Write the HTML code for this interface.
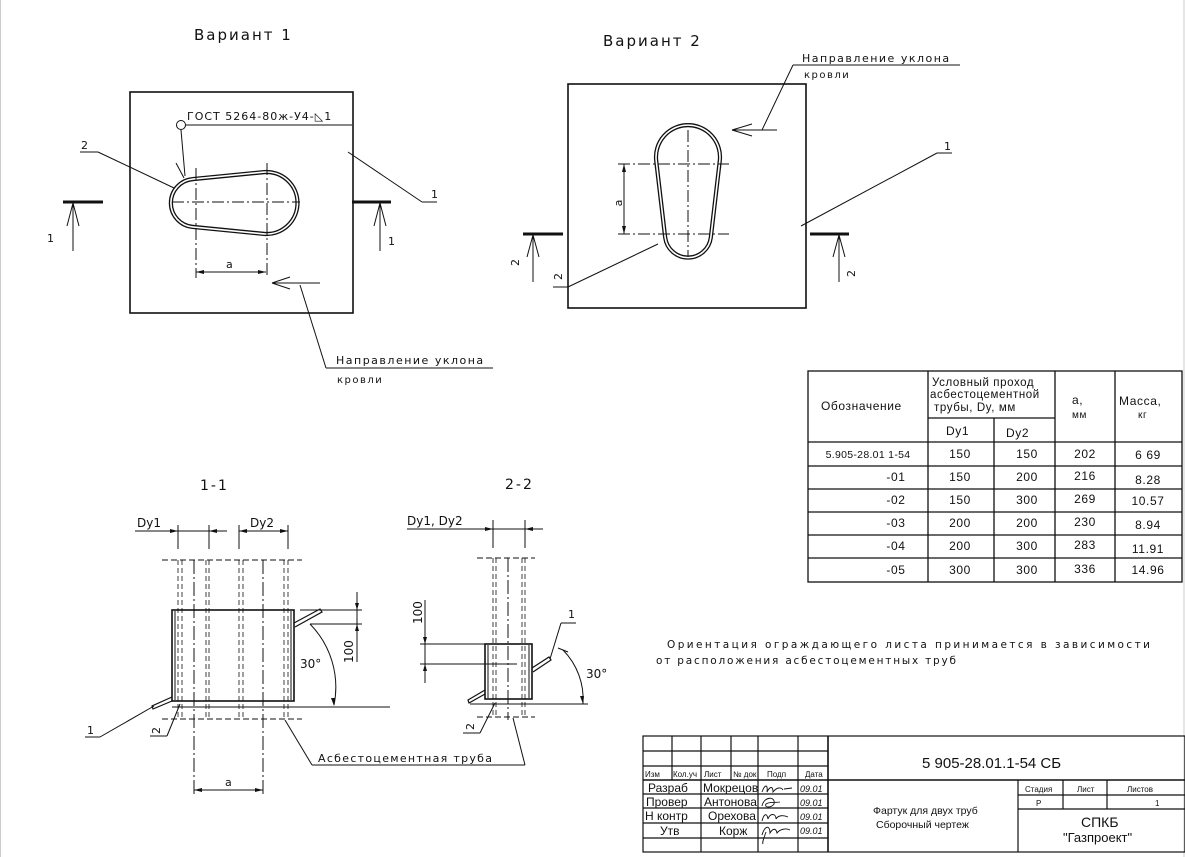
<!DOCTYPE html>
<html><head><meta charset="utf-8"><style>
html,body{margin:0;padding:0;background:#fff;}
svg{display:block;}
text{font-family:"Liberation Sans","DejaVu Sans",sans-serif;fill:#111;}
.g{font-family:"DejaVu Sans","Liberation Sans",sans-serif;}
</style></head><body>
<svg width="1185" height="857" viewBox="0 0 1185 857" xmlns="http://www.w3.org/2000/svg" stroke="#111" fill="none" stroke-width="1">
<line x1="0" y1="0" x2="0" y2="857" stroke="#999"/>
<line x1="1184" y1="0" x2="1184" y2="857" stroke="#ccc"/>

<!-- ===== Variant 1 ===== -->
<text x="194" y="40" font-size="15" stroke="none" letter-spacing="2" class="g">Вариант 1</text>
<rect x="130" y="92" width="223" height="221" stroke-width="1.6"/>
<path d="M192.7,179.1 L264,172.1 A31,31 0 1 1 264,233.9 L192.7,226.9 A24,24 0 0 1 192.7,179.1 Z" stroke-width="4.2"/>
<path d="M192.7,179.1 L264,172.1 A31,31 0 1 1 264,233.9 L192.7,226.9 A24,24 0 0 1 192.7,179.1 Z" stroke="#fff" stroke-width="1.6"/>
<line x1="172" y1="202" x2="300" y2="202" stroke-dasharray="12,3,2,3"/>
<line x1="196" y1="168" x2="196" y2="278" stroke-dasharray="12,3,2,3"/>
<line x1="267" y1="163" x2="267" y2="278" stroke-dasharray="12,3,2,3"/>
<line x1="196" y1="272" x2="266" y2="272"/>
<path d="M196,272 l8,-2 v4 z M266,272 l-8,-2 v4 z" fill="#111" stroke="none"/>
<text x="226" y="268" font-size="11" stroke="none" class="g">а</text>
<line x1="272" y1="283" x2="320" y2="283"/>
<path d="M272,283 L290,277 M272,283 L290,289"/>
<line x1="300" y1="285" x2="326" y2="368"/>
<line x1="326" y1="368" x2="493" y2="368"/>
<text x="336" y="364" font-size="11" stroke="none" letter-spacing="1.5" class="g">Направление уклона</text>
<text x="337" y="383" font-size="10" stroke="none" letter-spacing="1.5" class="g">кровли</text>
<circle cx="181" cy="125" r="4.5"/>
<line x1="185" y1="125" x2="352" y2="125"/>
<line x1="181" y1="130" x2="185" y2="176"/>
<line x1="176" y1="163" x2="184" y2="178"/>
<text x="187" y="120" font-size="11" stroke="none" letter-spacing="1" class="g">ГОСТ 5264-80ж-У4-◺1</text>
<line x1="80" y1="152" x2="98" y2="152"/>
<line x1="98" y1="152" x2="174" y2="188"/>
<text x="81" y="149" font-size="11" stroke="none" class="g">2</text>
<line x1="348" y1="152" x2="422" y2="202"/>
<line x1="422" y1="202" x2="437" y2="202"/>
<text x="431" y="198" font-size="11" stroke="none" class="g">1</text>
<line x1="63" y1="202" x2="103" y2="202" stroke-width="3"/>
<line x1="73" y1="203" x2="73" y2="251"/>
<path d="M73,203 L67,226 M73,203 L79,226"/>
<text x="47" y="242" font-size="11" stroke="none" class="g">1</text>
<line x1="352" y1="202" x2="391" y2="202" stroke-width="3"/>
<line x1="380" y1="203" x2="380" y2="251"/>
<path d="M380,203 L374,226 M380,203 L386,226"/>
<text x="388" y="245" font-size="11" stroke="none" class="g">1</text>

<!-- ===== Variant 2 ===== -->
<text x="603" y="46" font-size="15" stroke="none" letter-spacing="2" class="g">Вариант 2</text>
<rect x="568" y="84" width="238" height="224" stroke-width="1.6"/>
<path d="M656.2,160.7 A32,32 0 1 1 719.8,160.7 L710.8,237.6 A23,23 0 0 1 665.2,237.6 Z" stroke-width="4.2"/>
<path d="M656.2,160.7 A32,32 0 1 1 719.8,160.7 L710.8,237.6 A23,23 0 0 1 665.2,237.6 Z" stroke="#fff" stroke-width="1.6"/>
<line x1="688" y1="130" x2="688" y2="257" stroke-dasharray="12,3,2,3"/>
<line x1="618" y1="164" x2="729" y2="164" stroke-dasharray="12,3,2,3"/>
<line x1="618" y1="234" x2="729" y2="234" stroke-dasharray="12,3,2,3"/>
<line x1="624" y1="164" x2="624" y2="234"/>
<path d="M624,164 l-2,8 h4 z M624,234 l-2,-8 h4 z" fill="#111" stroke="none"/>
<text x="622" y="203" font-size="11" stroke="none" class="g" transform="rotate(-90 622 203)" text-anchor="middle">а</text>
<line x1="732" y1="130" x2="777" y2="130"/>
<path d="M732,130 L752,124 M732,130 L752,136"/>
<line x1="762" y1="130" x2="793" y2="65"/>
<line x1="793" y1="65" x2="960" y2="65"/>
<text x="802" y="62" font-size="11" stroke="none" letter-spacing="1.5" class="g">Направление уклона</text>
<text x="804" y="78" font-size="10" stroke="none" letter-spacing="1.5" class="g">кровли</text>
<line x1="801" y1="226" x2="937" y2="153"/>
<line x1="937" y1="153" x2="952" y2="153"/>
<text x="944" y="150" font-size="11" stroke="none" class="g">1</text>
<line x1="658" y1="244" x2="568" y2="287"/>
<line x1="568" y1="287" x2="553" y2="287"/>
<text x="558" y="284" font-size="11" stroke="none" class="g" transform="rotate(-90 558 280)">2</text>
<line x1="523" y1="234" x2="563" y2="234" stroke-width="3"/>
<line x1="533" y1="235" x2="533" y2="282"/>
<path d="M533,235 L527,257 M533,235 L539,257"/>
<text x="515" y="270" font-size="11" stroke="none" class="g" transform="rotate(-90 515 266)">2</text>
<line x1="810" y1="234" x2="849" y2="234" stroke-width="3"/>
<line x1="839" y1="235" x2="839" y2="282"/>
<path d="M839,235 L833,257 M839,235 L845,257"/>
<text x="846" y="276" font-size="11" stroke="none" class="g" transform="rotate(-90 851 272)">2</text>

<!-- ===== Table ===== -->
<g stroke-width="1.3">
<rect x="808" y="371" width="374" height="211"/>
<line x1="928" y1="371" x2="928" y2="582"/>
<line x1="1055" y1="371" x2="1055" y2="582"/>
<line x1="1115" y1="371" x2="1115" y2="582"/>
<line x1="994" y1="418" x2="994" y2="582"/>
<line x1="928" y1="418" x2="1055" y2="418"/>
<line x1="808" y1="442" x2="1182" y2="442"/>
<line x1="808" y1="466" x2="1182" y2="466"/>
<line x1="808" y1="489" x2="1182" y2="489"/>
<line x1="808" y1="512" x2="1182" y2="512"/>
<line x1="808" y1="535" x2="1182" y2="535"/>
<line x1="808" y1="558" x2="1182" y2="558"/>
</g>
<g stroke="none" font-size="12" class="g" letter-spacing="0.6">
<text x="821" y="410">Обозначение</text>
<text x="932" y="386" font-size="11.5">Условный проход</text>
<text x="930" y="398" font-size="11.5">асбестоцементной</text>
<text x="934" y="411" font-size="11.5">трубы, Dy, мм</text>
<text x="1072" y="404">а,</text>
<text x="1072" y="418" font-size="10">мм</text>
<text x="1119" y="405">Масса,</text>
<text x="1138" y="418" font-size="10">кг</text>
<text x="946" y="435">Dу1</text>
<text x="1006" y="437">Dу2</text>
<g text-anchor="middle">
<text x="868" y="458" font-size="10.5" letter-spacing="0.3">5.905-28.01 1-54</text>
<text x="960" y="458">150</text><text x="1027" y="458">150</text><text x="1085" y="458">202</text><text x="1148" y="459">6 69</text>
<text x="896" y="481">-01</text>
<text x="960" y="481">150</text><text x="1027" y="481">200</text><text x="1085" y="480">216</text><text x="1148" y="484">8.28</text>
<text x="896" y="504">-02</text>
<text x="960" y="504">150</text><text x="1027" y="504">300</text><text x="1085" y="503">269</text><text x="1148" y="505">10.57</text>
<text x="896" y="527">-03</text>
<text x="960" y="527">200</text><text x="1027" y="527">200</text><text x="1085" y="526">230</text><text x="1148" y="529">8.94</text>
<text x="896" y="550">-04</text>
<text x="960" y="550">200</text><text x="1027" y="550">300</text><text x="1085" y="549">283</text><text x="1148" y="553">11.91</text>
<text x="896" y="574">-05</text>
<text x="960" y="574">300</text><text x="1027" y="574">300</text><text x="1085" y="573">336</text><text x="1148" y="574">14.96</text>
</g>
</g>

<text x="667" y="648" font-size="10.5" stroke="none" class="g" textLength="483" lengthAdjust="spacing">Ориентация ограждающего листа принимается в зависимости</text>
<text x="656" y="664" font-size="10.5" stroke="none" class="g" textLength="300" lengthAdjust="spacing">от расположения асбестоцементных труб</text>

<!-- ===== Section 1-1 ===== -->
<text x="200" y="490" font-size="14" stroke="none" class="g" letter-spacing="2">1-1</text>
<line x1="162" y1="560" x2="302" y2="560" stroke-dasharray="6,3"/>
<line x1="162" y1="719" x2="302" y2="719" stroke-dasharray="6,3"/>
<g stroke-dasharray="5,3" stroke-width="0.8">
<line x1="178" y1="560" x2="178" y2="719"/><line x1="182" y1="560" x2="182" y2="719"/>
<line x1="206" y1="560" x2="206" y2="719"/><line x1="209" y1="560" x2="209" y2="719"/>
<line x1="239" y1="560" x2="239" y2="719"/><line x1="243" y1="560" x2="243" y2="719"/>
<line x1="284" y1="560" x2="284" y2="719"/><line x1="288" y1="560" x2="288" y2="719"/>
</g>
<line x1="194" y1="560" x2="194" y2="795" stroke-dasharray="14,3,2,3"/>
<line x1="263" y1="560" x2="263" y2="795" stroke-dasharray="14,3,2,3"/>
<rect x="172" y="610" width="122" height="91" stroke-width="1.6"/>
<line x1="175" y1="611" x2="175" y2="700"/>
<line x1="291" y1="611" x2="291" y2="700"/>
<line x1="172" y1="707" x2="390" y2="707"/>
<path d="M294,623 L320,609 L322,612 L295,627" stroke-width="1.2"/>
<path d="M172,697 L152,706 L153,709 L172,701" stroke-width="1.2"/>
<line x1="178" y1="525" x2="178" y2="549"/>
<line x1="209" y1="525" x2="209" y2="549"/>
<line x1="239" y1="525" x2="239" y2="549"/>
<line x1="288" y1="525" x2="288" y2="549"/>
<line x1="135" y1="531" x2="227" y2="531"/>
<line x1="239" y1="531" x2="288" y2="531"/>
<path d="M178,531 l-8,-2 v4z M209,531 l8,-2 v4z M239,531 l8,-2 v4z M288,531 l-8,-2 v4z" fill="#111" stroke="none"/>
<text x="137" y="527" font-size="12" stroke="none" class="g">Dy1</text>
<text x="250" y="527" font-size="12" stroke="none" class="g">Dy2</text>
<line x1="300" y1="610" x2="362" y2="610"/>
<line x1="310" y1="624" x2="362" y2="624"/>
<line x1="357" y1="592" x2="357" y2="662"/>
<path d="M357,610 l-2,-7 h4z M357,624 l-2,7 h4z" fill="#111" stroke="none"/>
<text x="353" y="663" font-size="12" stroke="none" class="g" transform="rotate(-90 353 663)">100</text>
<path d="M310,624 A90,90 0 0 1 334,705"/>
<path d="M334,706 l-3,-8 l4,0z" fill="#111" stroke="none"/>
<text x="300" y="668" font-size="12" stroke="none" class="g">30°</text>
<line x1="194" y1="790" x2="263" y2="790"/>
<path d="M194,790 l8,-2 v4z M263,790 l-8,-2 v4z" fill="#111" stroke="none"/>
<text x="225" y="786" font-size="11" stroke="none" class="g">а</text>
<line x1="100" y1="737" x2="154" y2="706"/>
<line x1="85" y1="737" x2="100" y2="737"/>
<text x="87" y="734" font-size="11" stroke="none" class="g">1</text>
<line x1="167" y1="736" x2="180" y2="704"/>
<line x1="150" y1="736" x2="167" y2="736"/>
<text x="152" y="734" font-size="11" stroke="none" class="g" transform="rotate(-90 156 730)">2</text>
<line x1="285" y1="720" x2="312" y2="765"/>
<line x1="312" y1="765" x2="525" y2="765"/>
<line x1="513" y1="718" x2="525" y2="765"/>
<text x="318" y="762" font-size="11" stroke="none" class="g" letter-spacing="1.3">Асбестоцементная труба</text>

<!-- ===== Section 2-2 ===== -->
<text x="505" y="489" font-size="14" stroke="none" class="g" letter-spacing="2">2-2</text>
<line x1="477" y1="558" x2="535" y2="558" stroke-dasharray="6,3"/>
<line x1="477" y1="717" x2="535" y2="717" stroke-dasharray="6,3"/>
<g stroke-dasharray="5,3" stroke-width="0.8">
<line x1="493" y1="558" x2="493" y2="717"/><line x1="496" y1="558" x2="496" y2="717"/>
<line x1="522" y1="558" x2="522" y2="717"/><line x1="525" y1="558" x2="525" y2="717"/>
</g>
<line x1="508" y1="558" x2="508" y2="720" stroke-dasharray="14,3,2,3"/>
<rect x="485" y="644" width="47" height="55" stroke-width="1.6"/>
<line x1="488" y1="645" x2="488" y2="698"/>
<line x1="529" y1="645" x2="529" y2="698"/>
<line x1="470" y1="704" x2="588" y2="704"/>
<path d="M532,668 L549,657 L551,660 L533,672" stroke-width="1.2"/>
<path d="M485,690 L468,700 L469,703 L485,694" stroke-width="1.2"/>
<line x1="493" y1="520" x2="493" y2="548"/>
<line x1="525" y1="520" x2="525" y2="548"/>
<line x1="407" y1="529" x2="543" y2="529"/>
<path d="M493,529 l-8,-2 v4z M525,529 l8,-2 v4z" fill="#111" stroke="none"/>
<text x="407" y="525" font-size="12" stroke="none" class="g">Dy1, Dy2</text>
<line x1="420" y1="644" x2="485" y2="644"/>
<line x1="420" y1="664" x2="517" y2="664"/>
<line x1="425" y1="600" x2="425" y2="683"/>
<path d="M425,644 l-2,-7 h4z M425,664 l-2,7 h4z" fill="#111" stroke="none"/>
<text x="422" y="624" font-size="12" stroke="none" class="g" transform="rotate(-90 422 624)">100</text>
<path d="M563,650 A70,70 0 0 1 583,704"/>
<line x1="558" y1="648" x2="568" y2="652"/>
<path d="M583,704 l-3,-8 l4,0z" fill="#111" stroke="none"/>
<text x="586" y="678" font-size="12" stroke="none" class="g">30°</text>
<line x1="550" y1="659" x2="561" y2="623"/>
<line x1="561" y1="623" x2="576" y2="623"/>
<text x="568" y="618" font-size="11" stroke="none" class="g">1</text>
<line x1="480" y1="733" x2="495" y2="703"/>
<line x1="463" y1="733" x2="480" y2="733"/>
<text x="465" y="731" font-size="11" stroke="none" class="g" transform="rotate(-90 469 726)">2</text>

<!-- ===== Title block ===== -->
<g stroke-width="1.2">
<rect x="643" y="736" width="542" height="116"/>
<line x1="828" y1="736" x2="828" y2="852" stroke-width="1.6"/>
<line x1="828" y1="780" x2="1185" y2="780" stroke-width="1.6"/>
<line x1="643" y1="780" x2="828" y2="780" stroke-width="1.6"/>
<line x1="643" y1="751" x2="828" y2="751"/>
<line x1="643" y1="766" x2="828" y2="766"/>
<line x1="643" y1="794" x2="828" y2="794"/>
<line x1="643" y1="808" x2="828" y2="808"/>
<line x1="643" y1="823" x2="828" y2="823"/>
<line x1="643" y1="838" x2="828" y2="838"/>
<line x1="672" y1="736" x2="672" y2="780"/>
<line x1="701" y1="736" x2="701" y2="852"/>
<line x1="731" y1="736" x2="731" y2="780"/>
<line x1="758" y1="736" x2="758" y2="852"/>
<line x1="798" y1="736" x2="798" y2="852"/>
<line x1="1018" y1="780" x2="1018" y2="852"/>
<line x1="1018" y1="795" x2="1185" y2="795"/>
<line x1="1018" y1="809" x2="1185" y2="809"/>
<line x1="1063" y1="780" x2="1063" y2="809"/>
<line x1="1107" y1="780" x2="1107" y2="809"/>
</g>
<g stroke="none">
<text x="645" y="777" font-size="8">Изм</text>
<text x="673" y="777" font-size="8">Кол.уч</text>
<text x="704" y="777" font-size="8">Лист</text>
<text x="733" y="777" font-size="8">№ док</text>
<text x="767" y="777" font-size="8">Подп</text>
<text x="805" y="777" font-size="8">Дата</text>
<text x="648" y="792" font-size="12">Разраб</text>
<text x="703" y="792" font-size="12">Мокрецов</text>
<text x="646" y="806" font-size="12">Провер</text>
<text x="704" y="806" font-size="12">Антонова</text>
<text x="645" y="820" font-size="12">Н контр</text>
<text x="708" y="820" font-size="12">Орехова</text>
<text x="660" y="835" font-size="12">Утв</text>
<text x="719" y="835" font-size="12">Корж</text>
<text x="800" y="792" font-size="9" font-style="italic">09.01</text>
<text x="800" y="806" font-size="9" font-style="italic">09.01</text>
<text x="800" y="820" font-size="9" font-style="italic">09.01</text>
<text x="800" y="834" font-size="9" font-style="italic">09.01</text>
<text x="922" y="768" font-size="15">5 905-28.01.1-54  СБ</text>
<text x="873" y="814" font-size="10.5">Фартук для двух труб</text>
<text x="876" y="828" font-size="10.5">Сборочный чертеж</text>
<text x="1025" y="792" font-size="8">Стадия</text>
<text x="1077" y="792" font-size="8">Лист</text>
<text x="1127" y="792" font-size="8">Листов</text>
<text x="1036" y="806" font-size="8">Р</text>
<text x="1155" y="806" font-size="8">1</text>
<text x="1081" y="827" font-size="14">СПКБ</text>
<text x="1063" y="842" font-size="13">"Газпроект"</text>
</g>
<g stroke-width="0.9">
<path d="M762,792 c3,-8 6,-8 5,0 c3,-6 6,-6 6,0 c4,-5 8,-5 10,-2 M784,789 l8,-1"/>
<path d="M762,806 c2,-10 14,-10 12,-2 c-3,4 -10,4 -8,0 c4,-3 10,-1 14,-2"/>
<path d="M762,821 c2,-8 5,-8 6,-2 c2,-6 8,-6 8,0 c2,-4 8,-4 12,-2"/>
<path d="M762,835 c3,-10 8,-10 8,-2 c3,-5 6,-5 7,0 c3,-4 9,-5 13,-3 M766,832 c-2,6 -4,10 -3,12"/>
</g>
</svg>
</body></html>
